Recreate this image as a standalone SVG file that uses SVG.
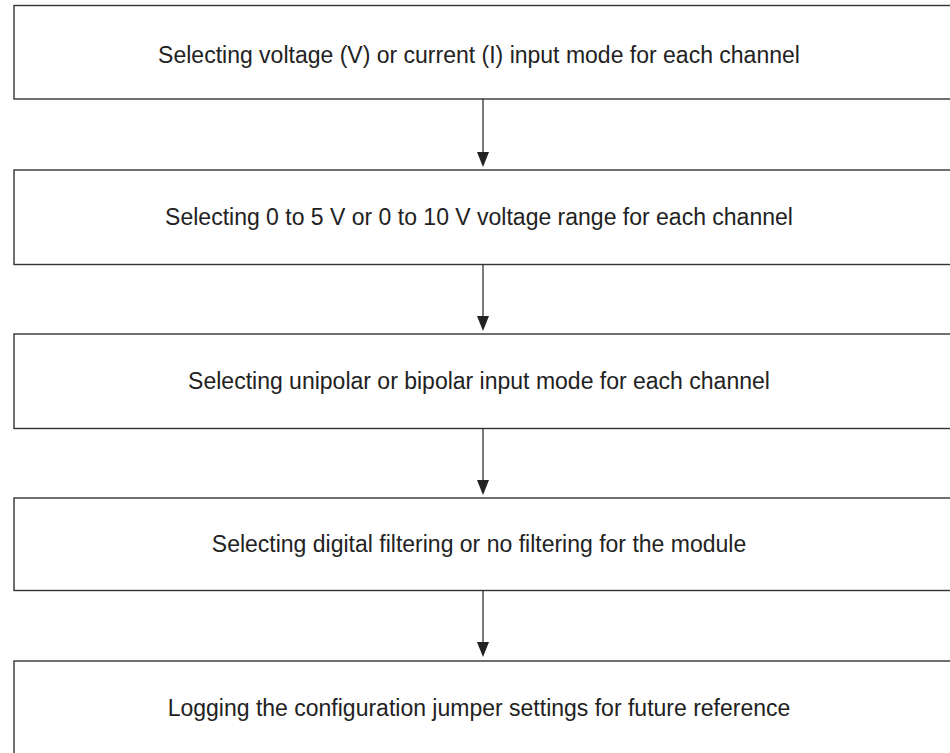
<svg xmlns="http://www.w3.org/2000/svg" width="950" height="753" viewBox="0 0 950 753">
<style>
.box{fill:#fff;stroke:#333;stroke-width:1.4}
.t{font-family:"Liberation Sans",Arial,sans-serif;font-size:23px;fill:#222;text-anchor:middle}
.c{stroke:#222;stroke-width:1.2;fill:none}
.ah{fill:#222}
</style>
<rect width="950" height="753" fill="#fff"/>
<g id="n1"><rect class="box" x="14" y="5.5" width="940" height="93.5"/><text class="t" x="479" y="63">Selecting voltage (V) or current (I) input mode for each channel</text></g>
<g id="n2"><rect class="box" x="14" y="170" width="940" height="94.5"/><text class="t" x="479" y="225">Selecting 0 to 5 V or 0 to 10 V voltage range for each channel</text></g>
<g id="n3"><rect class="box" x="14" y="334" width="940" height="94.5"/><text class="t" x="479" y="389">Selecting unipolar or bipolar input mode for each channel</text></g>
<g id="n4"><rect class="box" x="14" y="498" width="940" height="92.5"/><text class="t" x="479" y="552">Selecting digital filtering or no filtering for the module</text></g>
<g id="n5"><rect class="box" x="14" y="661" width="940" height="100"/><text class="t" x="479" y="716">Logging the configuration jumper settings for future reference</text></g>
<g id="connectors">
<line class="c" x1="483" y1="99" x2="483" y2="160"/><path class="ah" d="M477,152 L489,152 L483,167 Z"/>
<line class="c" x1="483" y1="264.5" x2="483" y2="324"/><path class="ah" d="M477,316 L489,316 L483,331 Z"/>
<line class="c" x1="483" y1="428.5" x2="483" y2="488"/><path class="ah" d="M477,480 L489,480 L483,495 Z"/>
<line class="c" x1="483" y1="590.5" x2="483" y2="651"/><path class="ah" d="M477,642 L489,642 L483,657 Z"/>
</g>
</svg>
